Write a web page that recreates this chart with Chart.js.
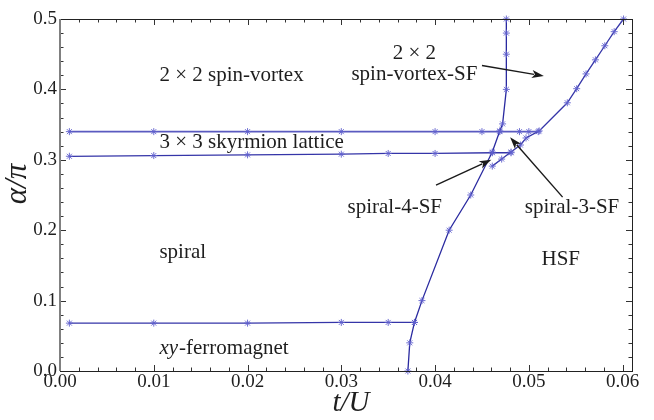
<!DOCTYPE html>
<html><head><meta charset="utf-8">
<script src="https://cdn.jsdelivr.net/npm/chart.js@4.4.1/dist/chart.umd.min.js"></script>
<style>html,body{margin:0;padding:0;background:#fff}#wrap{width:654px;height:420px;position:relative}</style>
</head><body><div id="wrap"><canvas id="c" width="654" height="420"></canvas></div>
<script>
// ---- tick labels ----
const xTickValues = [0, 0.01, 0.02, 0.03, 0.04, 0.05, 0.06];
const yTickValues = [0, 0.1, 0.2, 0.3, 0.4, 0.5];

// ---- phase boundaries (t/U, alpha/pi) ----
const skyUpperT = [0.001, 0.01, 0.02, 0.03, 0.04, 0.045, 0.0469, 0.049, 0.050, 0.051];
const skyUpperA = [0.340, 0.340, 0.340, 0.340, 0.340, 0.340, 0.340, 0.340, 0.340, 0.340];

const skyLowerT = [0.001, 0.01, 0.02, 0.03, 0.035, 0.04, 0.0461, 0.0481];
const skyLowerA = [0.305, 0.306, 0.307, 0.308, 0.309, 0.309, 0.310, 0.310];

const ferroT = [0.001, 0.01, 0.02, 0.03, 0.035, 0.0378];
const ferroA = [0.068, 0.068, 0.068, 0.069, 0.069, 0.069];

const sfT = [0.0371, 0.0373, 0.0378, 0.0386, 0.0415, 0.0438, 0.0461, 0.0469, 0.0472, 0.0476, 0.0476, 0.0476, 0.0476];
const sfA = [0.000, 0.040, 0.069, 0.100, 0.200, 0.250, 0.311, 0.341, 0.351, 0.400, 0.450, 0.480, 0.500];

const hsfT = [0.0461, 0.0471, 0.0481, 0.0491, 0.0497, 0.0511, 0.0541, 0.0551, 0.0561, 0.0571, 0.0581, 0.0591, 0.0601];
const hsfA = [0.291, 0.301, 0.311, 0.321, 0.331, 0.341, 0.381, 0.401, 0.422, 0.442, 0.462, 0.482, 0.500];

// ---- region labels (anchor in data coordinates) ----
const regionLabels = [
  {text: '2 \u00d7 2 spin-vortex', t: 0.0106, a: 0.412, align: 'left'},
  {text: '3 \u00d7 3 skyrmion lattice', t: 0.0106, a: 0.317, align: 'left'},
  {text: '2 \u00d7 2', t: 0.0378, a: 0.443, align: 'center'},
  {text: 'spin-vortex-SF', t: 0.0378, a: 0.4135, align: 'center'},
  {text: 'spiral-4-SF', t: 0.0357, a: 0.2248, align: 'center'},
  {text: 'spiral-3-SF', t: 0.0546, a: 0.2248, align: 'center'},
  {text: 'HSF', t: 0.0534, a: 0.151, align: 'center'},
  {text: 'spiral', t: 0.0106, a: 0.160, align: 'left'}
];
const arrows = [
  {t0: 0.0450, a0: 0.434, t1: 0.0516, a1: 0.419},
  {t0: 0.0401, a0: 0.264, t1: 0.0460, a1: 0.300},
  {t0: 0.0536, a0: 0.247, t1: 0.0480, a1: 0.332}
];

const pts = (T, A) => T.map((t, i) => ({x: t, y: A[i]}));
const LINE = '#3535a8';
const MARK = 'rgba(95,95,205,0.9)';
function ds(T, A, color, w) {
  return {data: pts(T, A), borderColor: color, borderWidth: w, pointStyle: 'star',
    pointRadius: 3.5, pointBorderColor: MARK, pointBorderWidth: 1, pointBackgroundColor: MARK,
    tension: 0, fill: false, clip: 5};
}

const SERIF = '"Liberation Serif", "Times New Roman", serif';

const decor = {
  id: 'decor',
  afterDraw(chart) {
    const ctx = chart.ctx, ca = chart.chartArea;
    const xs = chart.scales.x, ys = chart.scales.y;
    ctx.save();
    // ticks (inward, all four sides)
    ctx.strokeStyle = '#333'; ctx.lineWidth = 1;
    for (let i = 0; i <= 30; i++) {
      const v = i * 0.002, major = i % 5 === 0, len = major ? 6 : 3.5;
      const x = Math.round(xs.getPixelForValue(v)) + 0.5;
      ctx.beginPath();
      ctx.moveTo(x, ca.bottom); ctx.lineTo(x, ca.bottom - len);
      ctx.moveTo(x, ca.top); ctx.lineTo(x, ca.top + len);
      ctx.stroke();
    }
    for (let i = 0; i <= 25; i++) {
      const v = i * 0.02, major = i % 5 === 0, len = major ? 6 : 3.5;
      const y = Math.round(ys.getPixelForValue(v)) + 0.5;
      ctx.beginPath();
      ctx.moveTo(ca.left, y); ctx.lineTo(ca.left + len, y);
      ctx.moveTo(ca.right, y); ctx.lineTo(ca.right - len, y);
      ctx.stroke();
    }
    // frame
    ctx.strokeStyle = '#222'; ctx.lineWidth = 1;
    ctx.strokeRect(Math.round(ca.left) + 0.5, Math.round(ca.top) + 0.5,
      Math.round(ca.right - ca.left), Math.round(ca.bottom - ca.top));
    ctx.strokeStyle = '#808080'; ctx.lineWidth = 2;
    ctx.beginPath(); ctx.moveTo(ca.left, ca.top); ctx.lineTo(ca.left, ca.bottom); ctx.stroke();

    // region labels
    ctx.fillStyle = '#1e1e1e';
    ctx.font = '21px ' + SERIF;
    ctx.textBaseline = 'alphabetic';
    regionLabels.forEach(l => {
      ctx.textAlign = l.align;
      ctx.fillText(l.text, xs.getPixelForValue(l.t), ys.getPixelForValue(l.a));
    });
    // xy-ferromagnet (mixed italic)
    {
      const x0 = xs.getPixelForValue(0.0106), y0 = ys.getPixelForValue(0.024);
      ctx.textAlign = 'left';
      ctx.font = 'italic 21px ' + SERIF;
      ctx.fillText('xy', x0, y0);
      const w = ctx.measureText('xy').width;
      ctx.font = '21px ' + SERIF;
      ctx.fillText('-ferromagnet', x0 + w + 1, y0);
    }
    // arrows
    ctx.strokeStyle = '#1a1a1a'; ctx.fillStyle = '#1a1a1a'; ctx.lineWidth = 1.4;
    arrows.forEach(a => {
      const x0 = xs.getPixelForValue(a.t0), y0 = ys.getPixelForValue(a.a0);
      const x1 = xs.getPixelForValue(a.t1), y1 = ys.getPixelForValue(a.a1);
      const ang = Math.atan2(y1 - y0, x1 - x0), L = 12, W = 4;
      const bx = x1 - L * Math.cos(ang), by = y1 - L * Math.sin(ang);
      ctx.beginPath(); ctx.moveTo(x0, y0); ctx.lineTo(bx + 2 * Math.cos(ang), by + 2 * Math.sin(ang)); ctx.stroke();
      ctx.beginPath();
      ctx.moveTo(x1, y1);
      ctx.lineTo(bx + W * Math.sin(ang), by - W * Math.cos(ang));
      ctx.lineTo(bx + 3 * Math.cos(ang), by + 3 * Math.sin(ang));
      ctx.lineTo(bx - W * Math.sin(ang), by + W * Math.cos(ang));
      ctx.closePath(); ctx.fill();
    });
    // axis titles
    ctx.fillStyle = '#1e1e1e';
    ctx.font = 'italic 29px ' + SERIF;
    ctx.textAlign = 'center'; ctx.textBaseline = 'middle';
    ctx.fillText('t/U', (ca.left + ca.right) / 2 + 5, 403);
    ctx.save();
    ctx.translate(18, (ca.top + ca.bottom) / 2 - 11);
    ctx.rotate(-Math.PI / 2);
    ctx.font = 'italic 31px ' + SERIF;
    ctx.fillText('\u03b1/\u03c0', 0, 0);
    ctx.restore();
    ctx.restore();
  }
};

new Chart(document.getElementById('c'), {
  type: 'line',
  data: {datasets: [
    ds(skyUpperT, skyUpperA, '#5a5ac0', 1.6),
    ds(skyLowerT, skyLowerA, LINE, 1.3),
    ds(ferroT, ferroA, LINE, 1.3),
    ds(sfT, sfA, '#2a2aa0', 1.3),
    ds(hsfT, hsfA, LINE, 1.3)
  ]},
  options: {
    responsive: false, animation: false, devicePixelRatio: 1,
    layout: {padding: {top: 19, right: 22, left: 0, bottom: 0}},
    plugins: {legend: {display: false}, tooltip: {enabled: false}},
    scales: {
      x: {type: 'linear', min: 0, max: 0.061,
        grid: {display: false, drawTicks: false}, border: {display: false},
        afterBuildTicks: s => { s.ticks = xTickValues.map(v => ({value: v})); },
        afterFit: s => { s.height = 49; },
        ticks: {padding: 0, color: '#1e1e1e', font: {family: SERIF, size: 19},
          maxRotation: 0, autoSkip: false, callback: v => v.toFixed(2)}},
      y: {type: 'linear', min: 0, max: 0.5,
        grid: {display: false, drawTicks: false}, border: {display: false},
        afterBuildTicks: s => { s.ticks = yTickValues.map(v => ({value: v})); },
        afterFit: s => { s.width = 60; },
        ticks: {padding: 3, color: '#1e1e1e', font: {family: SERIF, size: 19},
          autoSkip: false, callback: v => v.toFixed(1)}}
    }
  },
  plugins: [decor]
});
</script></body></html>
